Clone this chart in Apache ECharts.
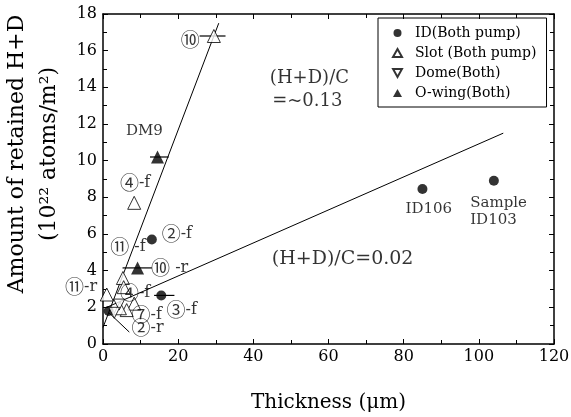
<!DOCTYPE html>
<html>
<head>
<meta charset="utf-8">
<script src="https://cdn.jsdelivr.net/npm/echarts@6/dist/echarts.min.js"></script>
<style>
  html, body { margin: 0; padding: 0; background: #fff; }
  #chart { width: 571px; height: 417px; }
</style>
</head>
<body>
<div id="chart"></div>
<script>
// measured values, [thickness um, H+D 1e22/m2]
var idPts = [[1.5, 1.8], [13, 5.7], [15.5, 2.65], [85, 8.45], [104, 8.9]];
var slotPts = [[29.5, 16.8], [8.3, 7.7], [5.3, 3.6], [5.5, 3.1], [1, 2.7], [8.3, 2.2], [6.3, 1.85], [4.5, 1.95]];
var domePts = [[4.3, 2.15], [3, 1.7]];
var owingPts = [[14.5, 10.2], [9.2, 4.15]];
// horizontal error bars: [x, y, xLow, xHigh]
var xErrBars = [[29.5, 16.8, 25.7, 32.6], [14.5, 10.2, 12.5, 17.5], [15.5, 2.65, 13.6, 19], [9.2, 4.15, 5.2, 13]];
// fit lines
var fitSteep = [[0, 0.9], [30.8, 17.5]];
var fitShallow = [[1, 2.0], [106.5, 11.5]];
var pointerLine = [[1.6, 1.7], [7, 0.65]];

// sample tags (left edge of text), [circled no, suffix, x, y]
var sampleTags = [
  ['⑩', '', 20.7, 16.6],
  ['④', '-f', 4.5, 8.78],
  ['⑪', ' -f', 1.9, 5.3],
  ['②', '-f', 15.6, 6.0],
  ['⑩', ' -r', 12.8, 4.15],
  ['⑪', '-r', -10.1, 3.1],
  ['④', '-f', 4.5, 2.78],
  ['③', '-f', 16.9, 1.85],
  ['⑦', '-f', 7.6, 1.6],
  ['②', '-r', 7.6, 0.87]
];
// plain text notes, [text, x, y, font size]
var plainTags = [
  ['DM9', 6.1, 11.6, 15],
  ['(H+D)/C', 44.4, 14.5, 18],
  ['=~0.13', 45, 13.26, 18],
  ['ID106', 80.5, 7.36, 15],
  ['Sample', 97.7, 7.69, 15],
  ['ID103', 97.7, 6.77, 15],
  ['(H+D)/C=0.02', 44.9, 4.64, 19]
];

var xTicks = { min: 0, max: 120, interval: 20 };
var yTicks = { min: 0, max: 18, interval: 2 };

var serif = 'DejaVu Serif';

function frameAxis(cfg, pos, showLabel) {
  return {
    type: 'value',
    position: pos,
    min: cfg.min, max: cfg.max, interval: cfg.interval,
    axisLine: { show: true, onZero: false, lineStyle: { color: '#000', width: 1.5 } },
    axisTick: { show: true, inside: true, length: 5, lineStyle: { color: '#000' } },
    minorTick: { show: true, splitNumber: 2, length: 4, lineStyle: { color: '#000' } },
    splitLine: { show: false },
    axisLabel: { show: showLabel, color: '#000', fontFamily: serif, fontSize: 16 }
  };
}

var xBottom = frameAxis(xTicks, 'bottom', true);
xBottom.axisLabel.margin = 5;
xBottom.name = 'Thickness (μm)';
xBottom.nameLocation = 'middle';
xBottom.nameGap = 49;
xBottom.nameTextStyle = { color: '#000', fontFamily: serif, fontSize: 20 };

var yLeft = frameAxis(yTicks, 'left', true);
yLeft.axisLabel.margin = 6;
yLeft.name = 'Amount of retained H+D\n(10²² atoms/m²)';
yLeft.nameLocation = 'middle';
yLeft.nameRotate = 90;
yLeft.nameGap = 32;
yLeft.nameTextStyle = { color: '#000', fontFamily: serif, fontSize: 22, lineHeight: 32, padding: [0, 0, 0, 50] };

var chart = echarts.init(document.getElementById('chart'));
chart.setOption({
  backgroundColor: '#fff',
  animation: false,
  grid: { left: 103, right: 17, top: 14, bottom: 73, containLabel: false, outerBoundsMode: 'none' },
  xAxis: [xBottom, frameAxis(xTicks, 'top', false)],
  yAxis: [yLeft, frameAxis(yTicks, 'right', false)],
  legend: {
    data: [
      { name: 'ID(Both pump)' },
      { name: 'Slot (Both pump)' },
      { name: 'Dome(Both)', icon: 'path://M0,0 L10,0 L5,9 Z' },
      { name: 'O-wing(Both)' }
    ],
    orient: 'vertical',
    left: 378, top: 18,
    padding: [8, 10, 7, 14],
    itemWidth: 9, itemHeight: 8, itemGap: 6,
    borderColor: '#000', borderWidth: 1,
    textStyle: { color: '#000', fontFamily: serif, fontSize: 14, lineHeight: 14, padding: [0, 0, 0, 8] }
  },
  series: [
    { type: 'line', data: fitSteep, symbol: 'none', lineStyle: { color: '#000', width: 1 }, z: 1 },
    { type: 'line', data: fitShallow, symbol: 'none', lineStyle: { color: '#000', width: 1 }, z: 1 },
    { type: 'line', data: pointerLine, symbol: 'none', lineStyle: { color: '#000', width: 1 }, z: 1 },
    {
      type: 'custom', data: xErrBars, z: 2,
      renderItem: function (params, api) {
        var a = api.coord([api.value(2), api.value(1)]);
        var b = api.coord([api.value(3), api.value(1)]);
        return { type: 'line', shape: { x1: a[0], y1: a[1], x2: b[0], y2: b[1] },
          style: { stroke: '#000', lineWidth: 1.2 } };
      }
    },
    { name: 'ID(Both pump)', type: 'scatter', data: idPts, symbol: 'circle', symbolSize: 10,
      itemStyle: { color: '#000' }, z: 3 },
    { name: 'Slot (Both pump)', type: 'scatter', data: slotPts, symbol: 'triangle', symbolSize: 13,
      itemStyle: { color: '#fff', borderColor: '#000', borderWidth: 1 }, z: 3 },
    { name: 'Dome(Both)', type: 'scatter', data: domePts, symbol: 'triangle', symbolRotate: 180, symbolSize: 11,
      itemStyle: { color: '#fff', borderColor: '#000', borderWidth: 1 }, z: 3 },
    { name: 'O-wing(Both)', type: 'scatter', data: owingPts, symbol: 'triangle', symbolSize: 13,
      itemStyle: { color: '#000' }, z: 3 },
    {
      type: 'scatter', symbolSize: 0, clip: false, silent: true, z: 4,
      data: sampleTags.map(function (t) { return { name: t[0], suffix: t[1], value: [t[2], t[3]] }; }),
      label: {
        show: true, position: 'inside', align: 'left', verticalAlign: 'middle',
        color: '#000', fontFamily: serif, fontSize: 16,
        formatter: function (p) { return '{c|' + p.data.name + '}' + p.data.suffix; },
        rich: { c: { fontFamily: 'Noto Sans CJK JP', fontSize: 19, color: '#000' } }
      }
    },
    {
      type: 'scatter', symbolSize: 0, clip: false, silent: true, z: 4,
      data: plainTags.map(function (t) { return { name: t[0], value: [t[1], t[2]], label: { fontSize: t[3] } }; }),
      label: {
        show: true, position: 'inside', align: 'left', verticalAlign: 'middle',
        color: '#000', fontFamily: serif,
        formatter: function (p) { return p.name; }
      }
    }
  ]
});
</script>
</body>
</html>
